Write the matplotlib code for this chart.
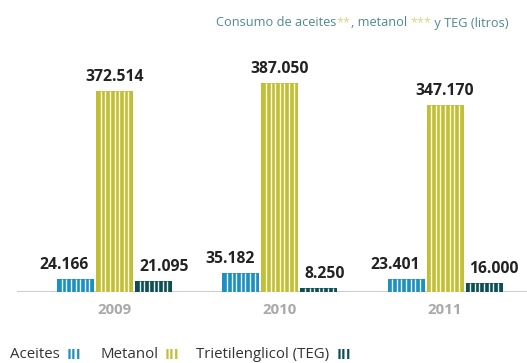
import numpy as np
import matplotlib
matplotlib.use("Agg")
import matplotlib.pyplot as plt

years = ["2009", "2010", "2011"]
series = ["Aceites", "Metanol", "Trietilenglicol (TEG)"]
aceites = [24166, 35182, 23401]
metanol = [372514, 387050, 347170]
teg = [21095, 8250, 16000]
value_labels = {
    "Aceites": ["24.166", "35.182", "23.401"],
    "Metanol": ["372.514", "387.050", "347.170"],
    "Trietilenglicol (TEG)": ["21.095", "8.250", "16.000"],
}

colors = ["#1d8fc1", "#c2bf35", "#0e4f55"]
FONT = "Open Sans"

W, H = 527, 363
fig = plt.figure(figsize=(W / 100, H / 100), dpi=100)
ax = fig.add_axes([17 / W, 71 / H, 510 / W, 232 / H])
ax.set_xlim(-0.59, 2.496)
ax.set_ylim(0, 430000)
ax.axis("off")

x = np.arange(len(years))
bw = 0.224
step = 0.236
data = [aceites, metanol, teg]
lab_kw = dict(textcoords="offset pixels", va="bottom", fontsize=11.3,
              fontweight="bold", color="#222222", family=FONT)

for i, (name, vals, col) in enumerate(zip(series, data, colors)):
    xs = x + (i - 1) * step
    ax.bar(xs, vals, width=bw, color=col, linewidth=0, zorder=2)
    # thin white stripes across each bar
    for xc, v in zip(xs, vals):
        edges = np.linspace(xc - bw / 2, xc + bw / 2, 9)[1:-1]
        ax.vlines(edges, 0, v, color="white", linewidth=1.0, alpha=0.9, zorder=3)
    for xc, v, lab in zip(xs, vals, value_labels[name]):
        if i == 0:
            ax.annotate(lab, (xc + bw / 2, v), xytext=(-5, 6), ha="right", **lab_kw)
        elif i == 1:
            ax.annotate(lab, (xc, v), xytext=(0, 6), ha="center", **lab_kw)
        else:
            ax.annotate(lab, (xc - bw / 2, v), xytext=(4, 6), ha="left", **lab_kw)

# baseline
ax.axhline(0, color="#b9c6cf", linewidth=1.2, zorder=1, xmin=0, xmax=1)

# year labels
for xc, y in zip(x, years):
    ax.annotate(y, (xc, 0), xytext=(0, -18), textcoords="offset pixels",
                ha="center", va="center", fontsize=10.8, fontweight="bold",
                color="#a9a9a9", family=FONT)

# title in coloured pieces, right aligned
title_parts = [("Consumo de aceites", "#4f8a8c"), ("**", "#d9d689"),
               (", metanol ", "#4f8a8c"), ("***", "#d9d689"),
               (" y TEG (litros)", "#4f8a8c")]
renderer = fig.canvas.get_renderer()
texts = []
for s, c in title_parts:
    t = fig.text(0, 1 - 23 / H, s, color=c, fontsize=9.2, family=FONT,
                 va="center", ha="left")
    texts.append(t)
widths = [t.get_window_extent(renderer).width for t in texts]
xpos = 509 - sum(widths)
for t, w in zip(texts, widths):
    t.set_x(xpos / W)
    xpos += w

# legend: label followed by a coloured stripe glyph
leg_y = 1 - 355 / H
leg_x = [10, 100, 196]
for lx, name, col in zip(leg_x, series, colors):
    t = fig.text(lx / W, leg_y, name, fontsize=10.8, family=FONT, color="#333333",
                 va="center", ha="left")
    w = t.get_window_extent(renderer).width
    fig.text((lx + w + 7) / W, leg_y, "III", fontsize=10.5, family=FONT,
             color=col, va="center", ha="left", fontweight="bold")

fig.savefig("out.png", dpi=100)
